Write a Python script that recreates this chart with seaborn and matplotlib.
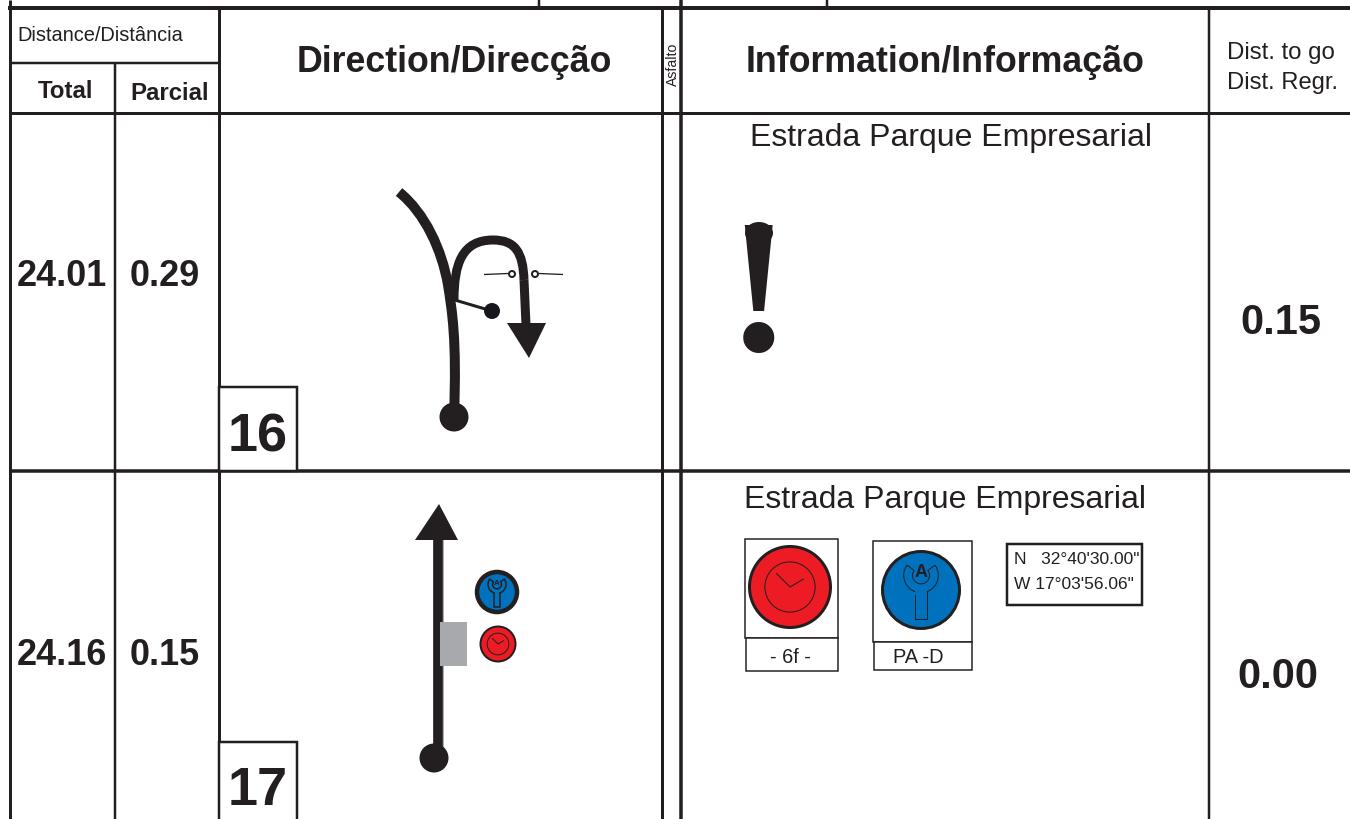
import matplotlib
matplotlib.use("Agg")
import matplotlib.pyplot as plt
import matplotlib.patches as mpatches
from matplotlib.path import Path
import seaborn as sns

# table values
row_total = ["24.01", "24.16"]
row_partial = ["0.29", "0.15"]
row_to_go = ["0.15", "0.00"]
row_number = ["16", "17"]
row_info = ["Estrada Parque Empresarial", "Estrada Parque Empresarial"]
gps_lines = ["N   32°40'30.00\"", "W 17°03'56.06\""]

# grid lines as (x0, y0, x1, y1, width in px)
grid_lines = [
    (10, 0, 10, 819, 3), (115, 63, 115, 819, 2.5), (219, 8, 219, 819, 3),
    (662, 8, 662, 819, 3), (681, 0, 681, 819, 3.5), (1209, 8, 1209, 819, 2.5),
    (539, 0, 539, 8, 2.5), (827, 0, 827, 8, 2.5),
    (8, 8, 1350, 8, 4), (10, 63, 219, 63, 2.5), (10, 113, 1350, 113, 3),
    (10, 471, 1350, 471, 3.5),
]

# road of the first row
road_main = [(399, 192), (425, 213), (442, 250), (448, 285), (452, 310), (457, 340), (454, 415)]
road_branch = [(454, 300), (454, 264), (462, 240), (493, 240), (515, 240), (523, 252), (524, 280)]
road_branch_end = (526, 325)
arrow_down = [(507, 323), (546, 323), (529, 358)]
side_line_x = [448, 492]
side_line_y = [298, 311]
sign_left_x = [484, 508]
sign_right_x = [539, 563]
sign_y = [274.5, 273.5]

# road of the second row
road_up_x = [438, 438]
road_up_y = [538, 750]
arrow_up = [(439, 504), (415, 540), (458, 540)]
asphalt_box = (440, 622, 27, 44)

INK = "#231f20"
RED = "#ed1c24"
BLUE = "#0071bc"
GREY = "#a7a9ac"
PX = 0.72

sns.set_theme(style="white")
plt.rcParams["font.family"] = ["Liberation Sans", "DejaVu Sans"]

fig = plt.figure(figsize=(13.5, 8.19), dpi=100)
ax = fig.add_axes([0, 0, 1, 1])


def line(xs, ys, width, color=INK, z=2):
    sns.lineplot(x=xs, y=ys, ax=ax, color=color, linewidth=width * PX, estimator=None,
                 sort=False, legend=False, zorder=z, solid_capstyle="butt")


def label(x, y, s, px, weight="normal", ha="center", family=None, rotation=0):
    # va center sits a bit high for these fonts
    if rotation == 0:
        y = y + px * 0.08
    ax.text(x, y, s, fontsize=px * PX, fontweight=weight, ha=ha, va="center", color=INK,
            family=family or plt.rcParams["font.family"], rotation=rotation, zorder=8)


def box(x0, y0, x1, y1, width=1.5):
    ax.add_patch(mpatches.Rectangle((x0, y0), x1 - x0, y1 - y0, fc="white", ec=INK,
                                    lw=width * PX, zorder=3))


def curve(points, width):
    codes = [Path.MOVETO] + [Path.CURVE4] * (len(points) - 1)
    ax.add_patch(mpatches.PathPatch(Path(points, codes), fc="none", ec=INK, lw=width * PX,
                                    capstyle="butt", zorder=4))


def dot(x, y, r, fc=INK, ec="none", width=0, z=5):
    ax.add_patch(mpatches.Circle((x, y), r, fc=fc, ec=ec, lw=width * PX, zorder=z))


def clock(x, y, r, ring):
    dot(x, y, r, fc=RED, ec=INK, width=ring)
    dot(x, y, r * 0.62, fc="none", ec=INK, width=1.0, z=6)
    line([x - r * 0.34, x, x + r * 0.34], [y - r * 0.34, y, y - r * 0.2], 1.0, z=6)


def wrench(x, y, r, ring, letter_px, edge):
    dot(x, y, r, fc=BLUE, ec=INK, width=ring)
    head_y = y - r * 0.38
    outer = r * 0.45
    inner = r * 0.22
    half = r * 0.16
    bottom = y + r * 0.75
    ax.add_patch(mpatches.Rectangle((x - half, head_y + inner), half * 2, bottom - head_y - inner,
                                    fc=BLUE, ec=INK, lw=edge * PX, zorder=6))
    # the y axis is flipped so the jaw opening is around 270 degrees
    ax.add_patch(mpatches.Wedge((x, head_y), outer, -36, 216, width=outer - inner, fc=BLUE,
                                ec=INK, lw=edge * PX, zorder=6))
    ax.add_patch(mpatches.Rectangle((x - half + edge / 2, head_y + inner + edge),
                                    half * 2 - edge, outer - inner + edge, fc=BLUE,
                                    ec="none", zorder=7))
    label(x, y - r * 0.48, "A", letter_px, weight="bold")


for x0, y0, x1, y1, w in grid_lines:
    line([x0, x1], [y0, y1], w)

# header
label(100, 34, "Distance/Distância", 20)
label(65.5, 90, "Total", 24, weight="bold")
label(170, 92, "Parcial", 24, weight="bold")
label(454, 60, "Direction/Direcção", 35.7, weight="bold")
label(673, 64, "Asfalto", 14, rotation=90)
label(945, 60, "Information/Informação", 35.7, weight="bold")
label(1227, 51, "Dist. to go", 24, ha="left")
label(1227, 81, "Dist. Regr.", 23.7, ha="left")

# rows
for i, (y_num, y_val, y_go, x_go, y_box, y_info, x_info) in enumerate(
        [(433, 274, 320, 1281, 387, 135, 951), (787, 653, 674, 1278, 742, 497, 945)]):
    label(62, y_val, row_total[i], 36, weight="bold")
    label(165, y_val, row_partial[i], 36, weight="bold")
    label(x_go, y_go, row_to_go[i], 41.5, weight="bold")
    box(219, y_box, 297, y_box + 84, 2.5)
    label(258, y_num, row_number[i], 54, weight="bold")
    label(x_info, y_info, row_info[i], 32)

# first row drawing
curve(road_main, 10)
curve(road_branch, 9)
line([road_branch[-1][0], road_branch_end[0]], [road_branch[-1][1], road_branch_end[1]], 9, z=4)
ax.add_patch(mpatches.Polygon(arrow_down, fc=INK, ec="none", zorder=5))
dot(454, 417, 14.5)
line(side_line_x, side_line_y, 3, z=5)
dot(492, 311, 8, fc="#16161d")
line(sign_left_x, sign_y, 1.3, z=5)
line(sign_right_x, sign_y[::-1], 1.3, z=5)
dot(512, 274, 3, fc="white", ec=INK, width=2)
dot(535, 274, 3, fc="white", ec=INK, width=2)
label(759, 289, "!", 191, weight="bold", family=["Liberation Serif"])
# rounded top of the exclamation mark, the font has a flat one
ax.add_patch(mpatches.Ellipse((759, 233), 28, 22, fc=INK, ec="none", zorder=9))

# second row drawing
line(road_up_x, road_up_y, 11, color=GREY, z=3.5)
line(road_up_x, road_up_y, 9.5, z=4)
ax.add_patch(mpatches.Polygon(arrow_up, fc=INK, ec="none", zorder=5))
dot(434, 758, 14.5)
ax.add_patch(mpatches.Rectangle(asphalt_box[:2], asphalt_box[2], asphalt_box[3], fc=GREY, ec="none", zorder=5))
wrench(497, 592, 20, 4.5, 8, 1.5)
clock(498, 644, 17.5, 2)

# information icons
box(745, 539, 838, 638)
box(746, 638, 838, 671)
clock(790, 587, 40.5, 3)
label(790, 656, "- 6f -", 20)
box(873, 541, 972, 642)
box(874, 642, 972, 670)
wrench(921, 590, 38.5, 3, 18, 1)
label(918, 656, "PA -D", 20)
box(1007, 544, 1142, 605, 2.5)
label(1014, 558, gps_lines[0], 17.4, ha="left")
label(1014, 583, gps_lines[1], 17.4, ha="left")

ax.set_xlim(0, 1350)
ax.set_ylim(819, 0)
ax.axis("off")
fig.savefig("out.png", dpi=100, facecolor="white")
